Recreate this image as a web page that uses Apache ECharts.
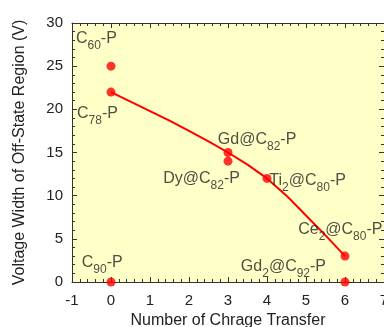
<!DOCTYPE html>
<html>
<head>
<meta charset="utf-8">
<script src="https://cdn.jsdelivr.net/npm/echarts@6/dist/echarts.min.js"></script>
<style>
html,body{margin:0;padding:0;background:#fff;}
#c{width:384px;height:327px;}
</style>
</head>
<body>
<div id="c"></div>
<script>
// Measured points
var pointX = [0, 0, 0, 3, 3, 4, 6, 6];
var pointY = [25, 22, 0, 15, 14, 12, 3, 0];
// Fitted curve
var curveX = [0, 0.5, 1, 1.5, 2, 2.5, 3, 3.5, 4, 4.5, 5, 5.5, 6];
var curveY = [22, 20.9, 19.8, 18.7, 17.5, 16.3, 15, 13.6, 12, 10.0, 7.7, 5.4, 3];
// Annotation texts (with _{..} subscripts) and their anchor in data units
var labelText = ['C_{60}-P', 'C_{78}-P', 'Gd@C_{82}-P', 'Dy@C_{82}-P', 'Ti_{2}@C_{80}-P', 'Ce_{2}@C_{80}-P', 'Gd_{2}@C_{92}-P', 'C_{90}-P'];
var labelX = [-0.90, -0.87, 2.74, 1.34, 4.06, 4.80, 3.33, -0.75];
var labelY = [28.18, 19.48, 16.53, 12.01, 11.75, 6.11, 1.75, 2.26];
// Axes
var xMin = -1, xMax = 7, xStep = 1;
var yMin = 0, yMax = 30, yStep = 5;
var xTitle = 'Number of Chrage Transfer';
var yTitle = 'Voltage Width of Off-State Region (V)';

var FONT = '"Liberation Sans", Arial, sans-serif';
function toRich(t) {
  return '{n|' + t.replace(/_\{([^}]*)\}/g, '}{s|$1}{n|') + '}';
}
var pts = pointX.map(function (x, i) { return [x, pointY[i]]; });
var curve = curveX.map(function (x, i) { return [x, curveY[i]]; });
var labs = labelText.map(function (t, i) { return { value: [labelX[i], labelY[i]], txt: toRich(t) }; });

var axisCommon = {
  axisLine: { show: true, onZero: false, lineStyle: { color: '#333', width: 1 } },
  axisTick: { show: true, inside: true, length: 5, lineStyle: { color: '#333' } },
  minorTick: { show: true, splitNumber: 5, length: 3, lineStyle: { color: '#333' } },
  splitLine: { show: false },
  minorSplitLine: { show: false }
};
function mk(extra) { return Object.assign({}, JSON.parse(JSON.stringify(axisCommon)), extra); }

var chart = echarts.init(document.getElementById('c'), null, { renderer: 'canvas' });
chart.setOption({
  animation: false,
  backgroundColor: '#ffffff',
  grid: { left: 72, top: 23, right: 0, bottom: 45, show: true, backgroundColor: '#FFFFC8', borderWidth: 0,
    containLabel: false, outerBoundsMode: 'none' },
  xAxis: [
    mk({ type: 'value', min: xMin, max: xMax, interval: xStep, position: 'bottom',
      name: xTitle, nameLocation: 'middle', nameGap: 28,
      nameTextStyle: { fontFamily: FONT, fontSize: 16, color: '#222' },
      axisLabel: { fontFamily: FONT, fontSize: 15, color: '#222', margin: 11 } }),
    mk({ type: 'value', min: xMin, max: xMax, interval: xStep, position: 'top',
      axisLabel: { show: false } })
  ],
  yAxis: [
    mk({ type: 'value', min: yMin, max: yMax, interval: yStep, position: 'left',
      name: yTitle, nameLocation: 'middle', nameGap: 44,
      nameTextStyle: { fontFamily: FONT, fontSize: 16, color: '#222' },
      axisLabel: { fontFamily: FONT, fontSize: 15, color: '#222', margin: 9 } }),
    mk({ type: 'value', min: yMin, max: yMax, interval: yStep, position: 'right',
      axisLabel: { show: false } })
  ],
  series: [
    { type: 'line', data: curve, smooth: false, symbol: 'none', clip: false,
      lineStyle: { color: '#FF0000', width: 2, join: 'round' }, z: 2 },
    { type: 'scatter', data: pts, symbolSize: 9, clip: false,
      itemStyle: { color: '#FF0000' }, z: 3 },
    { type: 'scatter', data: labs, symbolSize: 0, clip: false, silent: true, z: 4,
      label: { show: true, position: 'right', distance: 0,
        formatter: function (p) { return p.data.txt; },
        rich: {
          n: { fontFamily: FONT, fontSize: 16, lineHeight: 16, color: '#222', verticalAlign: 'top' },
          s: { fontFamily: FONT, fontSize: 12, lineHeight: 12, color: '#222', verticalAlign: 'top', padding: [9, 0, 0, 0] }
        } } }
  ]
});
</script>
</body>
</html>
